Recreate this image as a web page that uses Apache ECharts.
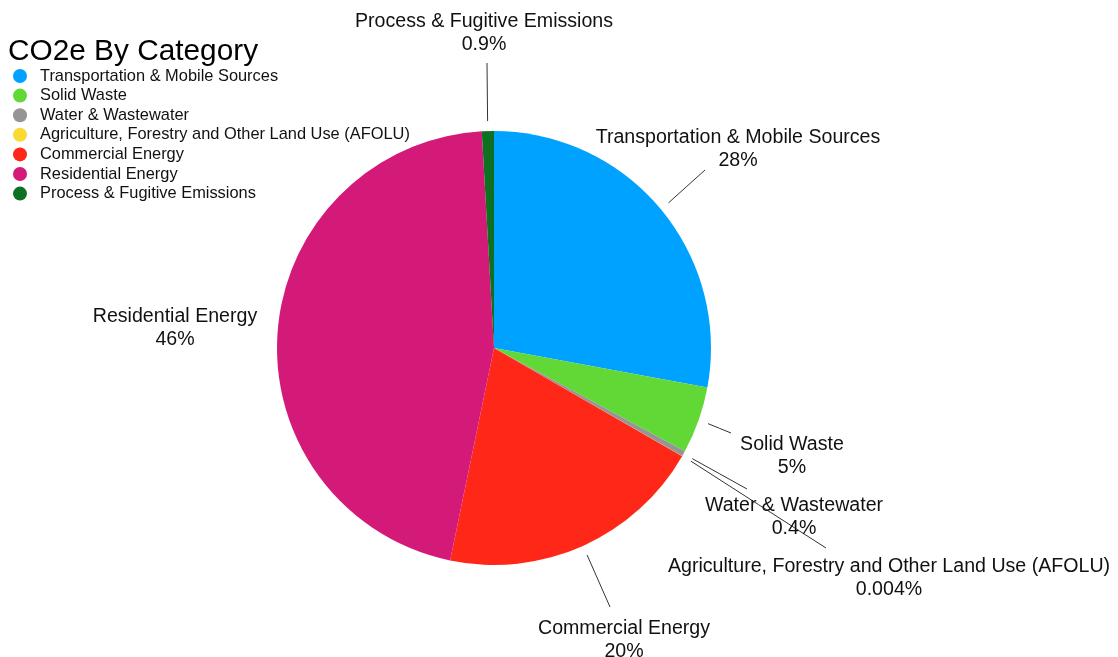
<!DOCTYPE html>
<html>
<head>
<meta charset="utf-8">
<script src="https://cdn.jsdelivr.net/npm/echarts@6/dist/echarts.min.js"></script>
<style>
html,body{margin:0;padding:0;background:#fff;}
#main{width:1118px;height:657px;}
</style>
</head>
<body>
<div id="main"></div>
<script>
var categories = [
  'Transportation & Mobile Sources',
  'Solid Waste',
  'Water & Wastewater',
  'Agriculture, Forestry and Other Land Use (AFOLU)',
  'Commercial Energy',
  'Residential Energy',
  'Process & Fugitive Emissions'
];
var percentValues = [28, 5, 0.4, 0.004, 20, 46, 0.9];
var colors = ['#00A2FF', '#61D836', '#959595', '#FAD932', '#FF2718', '#D41A78', '#0E7021'];

// layout (label anchor positions and leader-line end points, in px)
var labelPos = [[738,149],[792,456],[794,517],[889,578],[624,640],[175,328],[484,33]];
var lineEnd = [[705,170],[731,433],[747,489],[826,548],[610,607],null,[487,63]];

var chart = echarts.init(document.getElementById('main'));
var data = categories.map(function (name, i) {
  var d = { name: name, value: percentValues[i], itemStyle: { color: colors[i] } };
  if (!lineEnd[i]) d.labelLine = { show: false };
  return d;
});

chart.setOption({
  animation: false,
  title: {
    text: 'CO2e By Category',
    left: 3, top: 32,
    textStyle: { fontFamily: 'Liberation Sans', fontSize: 29.8, fontWeight: 'normal', color: '#000' }
  },
  legend: {
    orient: 'vertical',
    left: 8, top: 63,
    icon: 'circle',
    itemWidth: 14, itemHeight: 14,
    itemGap: 3.6,
    textStyle: { fontFamily: 'Liberation Sans', fontSize: 16.4, lineHeight: 14, color: '#111', padding: [0,0,0,8] },
    data: categories
  },
  series: [{
    type: 'pie',
    center: [494, 348],
    radius: 217,
    startAngle: 90,
    clockwise: true,
    avoidLabelOverlap: false,
    data: data,
    label: {
      show: true,
      position: 'outside',
      fontFamily: 'Liberation Sans',
      fontSize: 19.6,
      lineHeight: 23,
      color: '#111',
      align: 'center',
      formatter: function (p) { return p.name + '\n' + p.value + '%'; }
    },
    labelLine: {
      show: true,
      length: 20, length2: 10,
      lineStyle: { color: '#333', width: 1 }
    },
    labelLayout: function (params) {
      var i = params.dataIndex;
      var res = { x: labelPos[i][0], y: labelPos[i][1], align: 'center', verticalAlign: 'middle' };
      var pts = params.labelLinePoints;
      if (lineEnd[i] && pts) {
        var dx = pts[1][0] - pts[0][0], dy = pts[1][1] - pts[0][1];
        var len = Math.sqrt(dx*dx + dy*dy) || 1;
        var s = [pts[0][0] + dx/len*10, pts[0][1] + dy/len*10];
        var e = lineEnd[i];
        res.labelLinePoints = [s, [(s[0]+e[0])/2, (s[1]+e[1])/2], e];
      }
      return res;
    }
  }]
});
</script>
</body>
</html>
